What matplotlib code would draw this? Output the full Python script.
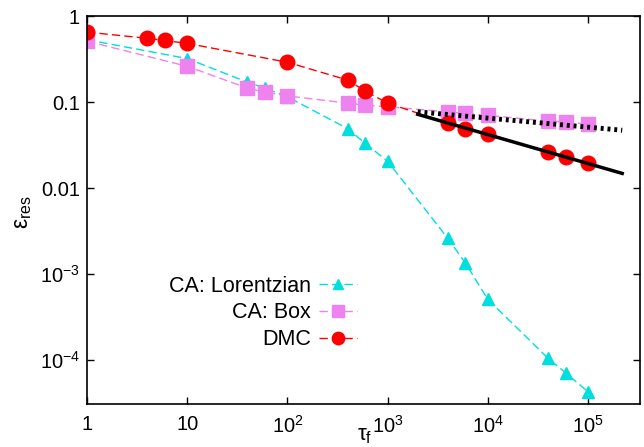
import matplotlib
matplotlib.use("Agg")
import matplotlib.pyplot as plt
from matplotlib.ticker import FixedLocator, FixedFormatter, NullLocator

plt.rcParams['font.family'] = ['Liberation Sans', 'DejaVu Sans']
plt.rcParams['mathtext.fontset'] = 'custom'
plt.rcParams['mathtext.rm'] = 'Liberation Sans'
plt.rcParams['mathtext.it'] = 'Liberation Sans:italic'

# data
tau_ca = [1, 10, 40, 60, 100, 400, 600, 1000, 4000, 6000, 1e4, 4e4, 6e4, 1e5]
err_lorentz = [0.53, 0.32, 0.17, 0.145, 0.115, 0.049, 0.033, 0.0205,
               0.0026, 0.00134, 0.00051, 0.000105, 0.000071, 0.000043]
err_box = [0.51, 0.26, 0.145, 0.13, 0.118, 0.097, 0.092, 0.088,
           0.077, 0.074, 0.070, 0.060, 0.059, 0.055]

tau_dmc = [1, 4, 6, 10, 100, 400, 600, 1000, 4000, 6000, 1e4, 4e4, 6e4, 1e5]
err_dmc = [0.65, 0.55, 0.52, 0.48, 0.29, 0.18, 0.134, 0.097,
           0.057, 0.049, 0.043, 0.026, 0.023, 0.0195]

# fit lines (end points)
fit_tau = [2000, 2.2e5]
fit_dmc = [0.072, 0.0148]
fit_box = [0.077, 0.047]

xticks = [1, 10, 100, 1e3, 1e4, 1e5]
xticklabels = ['1', '10', r'$10^2$', r'$10^3$', r'$10^4$', r'$10^5$']
yticks = [1e-4, 1e-3, 0.01, 0.1, 1]
yticklabels = [r'$10^{-4}$', r'$10^{-3}$', '0.01', '0.1', '1']

fig = plt.figure(figsize=(6.44, 4.47), dpi=100)
ax = fig.add_axes([87/644, 1-404/447, 553/644, 388/447])

ax.plot(tau_ca, err_lorentz, color='#00dede', ls=(0, (6, 3)), lw=1,
        marker='^', ms=9, label='CA: Lorentzian')
ax.plot(tau_ca, err_box, color='#ee82ee', ls=(0, (6, 3)), lw=1,
        marker='s', ms=9.5, label='CA: Box')
ax.plot(tau_dmc, err_dmc, color='#ff0000', ls=(0, (6, 3)), lw=1,
        marker='o', ms=10.5, label='DMC')
ax.plot(fit_tau, fit_dmc, color='black', lw=2.5)
ax.plot(fit_tau, fit_box, color='black', lw=3.5, ls=(0, (0.6, 0.8)))

ax.set_xscale('log')
ax.set_yscale('log')
ax.set_xlim(1, 10**5.52)
ax.set_ylim(10**-4.51, 1)

ax.xaxis.set_major_locator(FixedLocator(xticks))
ax.xaxis.set_major_formatter(FixedFormatter(xticklabels))
ax.yaxis.set_major_locator(FixedLocator(yticks))
ax.yaxis.set_major_formatter(FixedFormatter(yticklabels))
ax.xaxis.set_minor_locator(NullLocator())
ax.yaxis.set_minor_locator(NullLocator())
ax.tick_params(direction='in', length=5, width=1, top=True, right=True,
               labelsize=14.5)
ax.tick_params(axis='x', pad=8)
ax.tick_params(axis='y', pad=5)
for s in ax.spines.values():
    s.set_linewidth(1.2)

fig.text(365/644, 1-436/447, 'τ$_{\\rm f}$', fontsize=16, ha='center', va='center')
fig.text(23/644, 1-212/447, 'ε$_{\\rm res}$', fontsize=16.5, ha='center', va='center',
         rotation=90)

ax.legend(loc='center right', bbox_to_anchor=(357/644, 1-313/447),
          bbox_transform=fig.transFigure, frameon=False, borderpad=0,
          borderaxespad=0, markerfirst=False, fontsize=15.5, handlelength=1.75,
          labelspacing=0.26, handletextpad=0.4, markerscale=0.85)

fig.savefig('out.png', dpi=100)
